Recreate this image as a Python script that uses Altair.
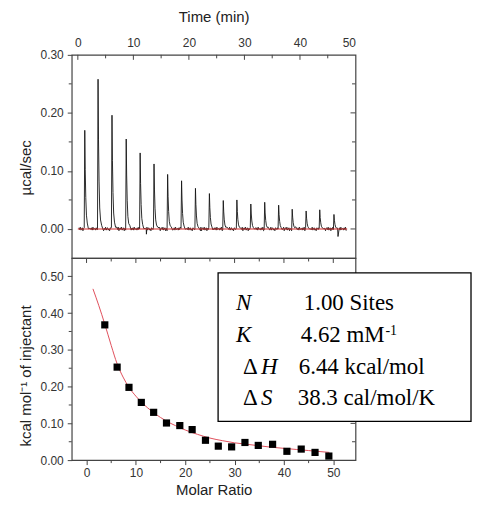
import altair as alt
import pandas as pd
import numpy as np

# ---------------- data: raw thermogram (top) ----------------
inj_time = [1.25, 3.64, 6.15, 8.71, 11.22, 13.72, 16.17, 18.68, 21.18, 23.69,
            26.19, 28.64, 31.15, 33.65, 36.16, 38.60, 41.11, 43.56, 46.12]
peak_height = [0.170, 0.258, 0.196, 0.155, 0.131, 0.112, 0.094, 0.083, 0.070, 0.061,
               0.049, 0.050, 0.043, 0.046, 0.041, 0.034, 0.031, 0.033, 0.025]
baseline_noise = [0.002, -0.001, 0.003, -0.002, 0.000, 0.002, -0.003, 0.001, -0.001,
                  0.003, -0.002, 0.001, 0.002, -0.002, 0.000, -0.003, 0.002, 0.001,
                  -0.001, 0.002, -0.002, 0.003, -0.001, 0.000, 0.001, -0.002, 0.002,
                  -0.001, 0.003, -0.003, 0.001]
dip_time = [12.35, 46.85]
dip_value = [-0.009, -0.013]
trace_start = 0.2
trace_end = 48.4
base_t = [0.0, 48.5]
base_v = [0.0, 0.0]

# ---------------- data: integrated heats (bottom) ----------------
ratio = [3.7, 6.2, 8.6, 11.1, 13.6, 16.2, 18.9, 21.4, 24.1, 26.7,
         29.4, 32.1, 34.8, 37.7, 40.6, 43.5, 46.3, 49.1]
heat = [0.368, 0.253, 0.198, 0.157, 0.130, 0.101, 0.094, 0.083, 0.054, 0.038,
        0.036, 0.048, 0.040, 0.043, 0.024, 0.030, 0.021, 0.011]
fit_x = [1.3, 2.5, 3.7, 5.0, 6.2, 7.4, 8.6, 10.0, 11.1, 12.4, 13.6, 15.0, 16.2,
         18.0, 20.0, 22.5, 25.0, 27.5, 30.0, 32.5, 35.0, 37.5, 40.0, 42.5, 45.0,
         47.5, 49.2]
fit_y = [0.466, 0.420, 0.370, 0.312, 0.262, 0.226, 0.198, 0.174, 0.158, 0.142,
         0.129, 0.116, 0.106, 0.094, 0.082, 0.070, 0.060, 0.053, 0.047, 0.043,
         0.039, 0.035, 0.032, 0.029, 0.026, 0.023, 0.021]

param_delta = ["", "", "\u0394", "\u0394"]
param_name = ["N", "K", "H", "S"]
param_value = ["1.00 Sites", "4.62 mM", "6.44 kcal/mol", "38.3 cal/mol/K"]
k_sup = "-1"

# ---------------- build trace ----------------
shape_dt = [-0.10, 0.0, 0.08, 0.18, 0.30, 0.45, 0.65, 0.90]
shape_frac = [0.0, 1.0, 0.60, 0.32, 0.14, 0.06, 0.02, 0.0]
rows = []
grid = np.arange(trace_start, trace_end, 0.12)
for i, t in enumerate(grid):
    if any(tp - 0.15 <= t <= tp + 0.95 for tp in inj_time):
        continue
    rows.append((float(t), baseline_noise[i % len(baseline_noise)]))
for n, (tp, h) in enumerate(zip(inj_time, peak_height)):
    for j, (dt, f) in enumerate(zip(shape_dt, shape_frac)):
        extra = baseline_noise[(j + n) % len(baseline_noise)] if f < 0.05 else 0.0
        rows.append((tp + dt, h * f + extra))
for t, v in zip(dip_time, dip_value):
    rows.append((t, v))
trace = pd.DataFrame(rows, columns=["t", "v"]).sort_values("t")
base = pd.DataFrame({"t": base_t, "v": base_v})
pts = pd.DataFrame({"r": ratio, "h": heat})
fit = pd.DataFrame({"r": fit_x, "h": fit_y})

W = 285
H_TOP, H_BOT = 204, 203
FONT = "Liberation Sans"
TICK = "#444"

xs_top = alt.Scale(domain=[-1.1, 50], nice=False, zero=False)
ys_top = alt.Scale(domain=[-0.05, 0.30], nice=False, zero=False)
xs_bot = alt.Scale(domain=[-3, 54.5], nice=False, zero=False)
ys_bot = alt.Scale(domain=[0, 0.55], nice=False, zero=False)


def hticks(vals, scale, x1, x2, field):
    df = pd.DataFrame({field: vals})
    return alt.Chart(df).mark_rule(color=TICK, strokeWidth=1).encode(
        y=alt.Y(f"{field}:Q", scale=scale), x=alt.value(x1), x2=alt.value(x2))


def vticks(vals, scale, y1, y2, field):
    df = pd.DataFrame({field: vals})
    return alt.Chart(df).mark_rule(color=TICK, strokeWidth=1).encode(
        x=alt.X(f"{field}:Q", scale=scale), y=alt.value(y1), y2=alt.value(y2))


# ---------------- top panel ----------------
trace_line = alt.Chart(trace).mark_line(color="#151515", strokeWidth=0.9).encode(
    x=alt.X("t:Q", scale=xs_top,
            axis=alt.Axis(orient="top", values=[0, 10, 20, 30, 40, 50], format="d",
                          ticks=False, labelPadding=5, title="Time (min)",
                          titleY=-33.2, titleBaseline="alphabetic")),
    y=alt.Y("v:Q", scale=ys_top,
            axis=alt.Axis(values=[0, 0.1, 0.2, 0.3], format=".2f", tickSize=4.5,
                          labelPadding=4, title="\u00b5cal/sec", titleX=-46.5,
                          titleY=113, titleAlign="center", titleBaseline="middle")),
)
base_line = alt.Chart(base).mark_line(color="#d42a2a", strokeWidth=1.1).encode(
    x=alt.X("t:Q", scale=xs_top), y=alt.Y("v:Q", scale=ys_top))

top = alt.layer(
    trace_line, base_line,
    hticks([0.25, 0.15, 0.05], ys_top, 0, -3, "v"),
    hticks([0.2, 0.1, 0.0], ys_top, W, W - 5, "v"),
    hticks([0.25, 0.15, 0.05], ys_top, W, W - 3.5, "v"),
    vticks([0, 10, 20, 30, 40], xs_top, 0, 5, "t"),
    vticks([5, 15, 25, 35, 45], xs_top, 0, 3.5, "t"),
).properties(width=W, height=H_TOP)

# ---------------- bottom panel ----------------
fit_line = alt.Chart(fit).mark_line(color="#e0505c", strokeWidth=1, interpolate="monotone").encode(
    x=alt.X("r:Q", scale=xs_bot,
            axis=alt.Axis(values=[0, 10, 20, 30, 40, 50], format="d", tickSize=4.5,
                          labelPadding=3, title="Molar Ratio", titleY=34.3,
                          titleBaseline="alphabetic")),
    y=alt.Y("h:Q", scale=ys_bot,
            axis=alt.Axis(values=[0, 0.1, 0.2, 0.3, 0.4, 0.5], format=".2f", tickSize=4.5,
                          labelPadding=4, title="kcal mol\u207b\u00b9 of injectant",
                          titleX=-46.5, titleY=118, titleAlign="center",
                          titleBaseline="middle")),
)
squares = alt.Chart(pts).mark_square(size=52, color="black", opacity=1).encode(
    x=alt.X("r:Q", scale=xs_bot), y=alt.Y("h:Q", scale=ys_bot))

one = pd.DataFrame({"a": [0]})
box = alt.Chart(one).mark_rect(fill="white", stroke="black", strokeWidth=1.3).encode(
    x=alt.value(147), x2=alt.value(401), y=alt.value(15), y2=alt.value(164))

row_y = [52, 84.5, 117, 148]
name_x = [165, 165, 190, 190]
value_x = [233, 230, 228, 227]
texts = []
for i in range(4):
    if param_delta[i]:
        texts.append(alt.Chart(one).mark_text(font="Liberation Serif", fontSize=23, align="left",
                                              baseline="alphabetic", color="black").encode(
            x=alt.value(172), y=alt.value(row_y[i]), text=alt.value(param_delta[i])))
    texts.append(alt.Chart(one).mark_text(font="Liberation Serif", fontSize=23, align="left",
                                          baseline="alphabetic", fontStyle="italic",
                                          color="black").encode(
        x=alt.value(name_x[i]), y=alt.value(row_y[i]), text=alt.value(param_name[i])))
    texts.append(alt.Chart(one).mark_text(font="Liberation Serif", fontSize=23, align="left",
                                          baseline="alphabetic", color="black").encode(
        x=alt.value(value_x[i]), y=alt.value(row_y[i]), text=alt.value(param_value[i])))
texts.append(alt.Chart(one).mark_text(font="Liberation Serif", fontSize=14, align="left",
                                      baseline="alphabetic", color="black").encode(
    x=alt.value(315), y=alt.value(77), text=alt.value(k_sup)))

bottom = alt.layer(
    fit_line, squares,
    hticks([0.05, 0.15, 0.25, 0.35, 0.45], ys_bot, 0, -3, "h"),
    hticks([0.1, 0.2, 0.3, 0.4, 0.5], ys_bot, W, W - 5, "h"),
    hticks([0.05, 0.15, 0.25, 0.35, 0.45], ys_bot, W, W - 3.5, "h"),
    vticks([5, 15, 25, 35, 45], xs_bot, H_BOT, H_BOT + 3, "r"),
    vticks([0, 10, 20, 30, 40, 50], xs_bot, 0, 5, "r"),
    vticks([5, 15, 25, 35, 45], xs_bot, 0, 3.5, "r"),
    box, *texts,
).properties(width=W, height=H_BOT)

chart = alt.vconcat(top, bottom, spacing=0, bounds="flush").properties(
    padding={"left": 9, "top": 0, "right": 0, "bottom": 0}
).configure_axis(
    labelFont=FONT, labelFontSize=12, labelColor="#333",
    titleFont=FONT, titleFontSize=15, titleFontWeight="normal", titleColor="#222",
    tickColor=TICK, tickWidth=1, grid=False, domain=False,
).configure_view(stroke="#444", strokeWidth=1.2)

chart.save("out.html", embed_options={"renderer": "svg", "actions": False})
